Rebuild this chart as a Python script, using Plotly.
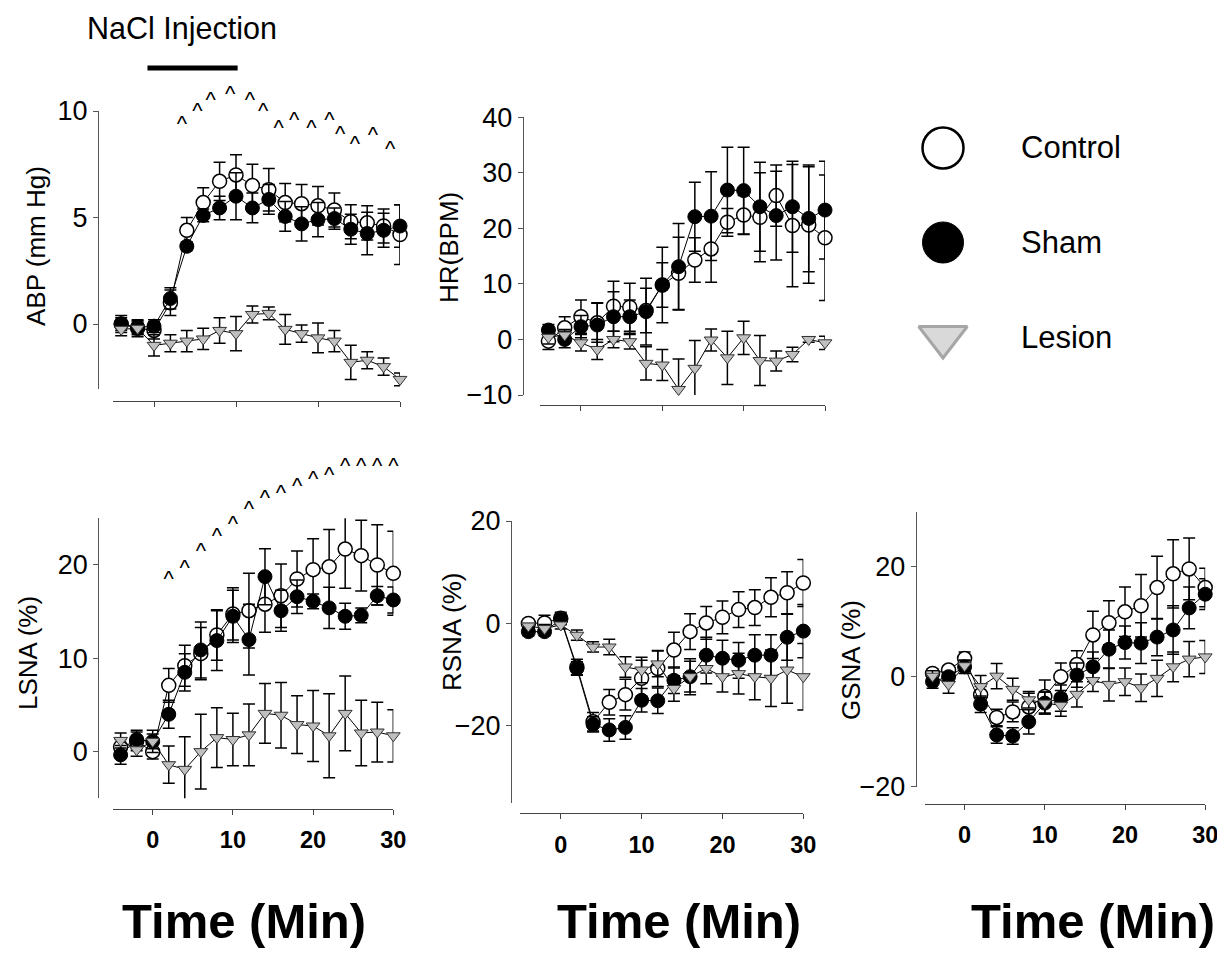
import plotly.graph_objects as go

# ---------------- data ----------------
time_min = [-4, -2, 0, 2, 4, 6, 8, 10, 12, 14, 16, 18, 20, 22, 24, 26, 28, 30]
group_names = ["Control", "Sham", "Lesion"]

# ABP (mm Hg)
abp_control = [0.0, -0.2, -0.3, 1.0, 4.4, 5.7, 6.7, 7.0, 6.5, 6.3, 5.7, 5.65, 5.55, 5.35, 4.8, 4.75, 4.6, 4.2]
abp_control_err = [0.4, 0.4, 0.4, 0.6, 0.6, 0.7, 0.9, 0.95, 1.0, 1.0, 0.9, 0.9, 0.9, 0.8, 0.8, 0.8, 0.8, 1.4]
abp_sham = [0.0, -0.15, -0.1, 1.2, 3.65, 5.1, 5.45, 6.0, 5.45, 5.85, 5.05, 4.7, 4.9, 4.95, 4.45, 4.25, 4.4, 4.6]
abp_sham_err = [0.3, 0.3, 0.3, 0.5, 0.2, 0.3, 0.55, 1.1, 0.7, 0.7, 0.7, 0.8, 0.8, 0.5, 0.7, 1.0, 0.8, 1.0]
abp_lesion = [-0.25, -0.2, -1.0, -0.9, -0.8, -0.7, -0.3, -0.45, 0.45, 0.5, -0.25, -0.45, -0.65, -0.8, -1.8, -1.7, -2.0, -2.6]
abp_lesion_err = [0.3, 0.3, 0.5, 0.4, 0.5, 0.5, 0.6, 0.8, 0.4, 0.3, 0.7, 0.4, 0.7, 0.5, 0.8, 0.4, 0.4, 0.3]
abp_yticks = [0, 5, 10]
abp_caret_x = [3.4, 5.3, 6.9, 9.3, 11.7, 13.3, 15.2, 17.1, 19.2, 21.4, 22.7, 24.5, 26.7, 28.8]
abp_caret_y = [9.3, 9.95, 10.45, 10.75, 10.45, 9.95, 9.15, 9.5, 9.15, 9.5, 8.85, 8.4, 8.8, 8.15]

# HR (BPM)
hr_control = [-0.3, 2.1, 4.1, 3.0, 6.0, 5.8, 5.2, 9.8, 11.9, 14.3, 16.3, 21.1, 22.4, 22.0, 25.9, 20.5, 20.6, 18.3]
hr_control_err = [1.5, 2.0, 3.0, 3.5, 4.5, 4.3, 4.0, 4.0, 6.5, 4.0, 6.0, 2.5, 3.5, 8.0, 5.5, 11.0, 10.5, 11.3]
hr_sham = [1.7, 0.0, 2.3, 2.6, 4.1, 4.1, 5.0, 9.8, 13.1, 22.1, 22.2, 26.9, 26.8, 23.9, 22.3, 23.9, 21.8, 23.3]
hr_sham_err = [1.0, 1.5, 2.0, 4.0, 4.5, 3.0, 6.0, 6.8, 7.8, 6.2, 8.0, 7.7, 7.8, 8.0, 8.0, 8.2, 9.6, 8.8]
hr_lesion = [0.4, 0.8, -0.6, -1.8, 0.0, -0.4, -4.3, -4.6, -9.0, -5.2, -0.1, -3.3, 0.3, -3.8, -3.9, -2.7, 0.0, -0.6]
hr_lesion_err = [1.2, 1.0, 1.5, 1.8, 1.5, 1.3, 3.0, 2.8, 5.5, 5.0, 2.0, 4.8, 3.0, 4.5, 1.8, 1.3, 0.5, 1.2]
hr_yticks = [-10, 0, 10, 20, 30, 40]

# LSNA (%)
lsna_control = [0.5, 1.1, 0.0, 7.1, 9.2, 10.5, 12.5, 14.75, 15.1, 15.8, 16.7, 18.5, 19.5, 19.8, 21.7, 21.0, 20.0, 19.1]
lsna_control_err = [0.8, 1.0, 0.8, 1.8, 2.2, 2.8, 2.7, 2.8, 4.0, 3.0, 3.4, 3.0, 3.3, 4.0, 4.2, 3.8, 4.3, 4.5]
lsna_sham = [-0.35, 1.3, 1.1, 4.0, 8.5, 10.9, 11.9, 14.5, 12.0, 18.75, 15.1, 16.6, 16.1, 15.4, 14.5, 14.6, 16.7, 16.25]
lsna_sham_err = [1.0, 1.0, 1.2, 1.5, 2.0, 3.0, 3.2, 2.8, 3.8, 3.0, 2.2, 1.8, 0.8, 2.2, 1.4, 0.8, 1.0, 1.4]
lsna_lesion = [1.2, 0.2, 1.1, -1.4, -1.9, 0.0, 1.5, 1.3, 1.8, 4.1, 3.9, 2.9, 2.75, 1.7, 4.1, 2.0, 2.1, 1.7]
lsna_lesion_err = [0.8, 0.7, 0.8, 2.0, 3.5, 4.0, 3.2, 2.8, 3.3, 3.2, 3.5, 3.1, 3.8, 4.5, 4.0, 3.5, 3.2, 2.8]
lsna_yticks = [0, 10, 20]
lsna_caret_x = [2, 4, 6, 8, 10, 12, 14, 16, 18, 20, 22, 24, 26, 28, 30]
lsna_caret_y = [18.3, 19.5, 21.3, 22.9, 24.2, 25.8, 27.0, 27.6, 28.3, 29.0, 29.5, 30.4, 30.4, 30.4, 30.4]

# RSNA (%)
rsna_control = [0.0, 0.1, 1.0, -8.5, -19.2, -15.4, -13.9, -10.7, -8.8, -5.2, -1.6, 0.1, 1.2, 2.7, 3.1, 5.1, 6.0, 7.9]
rsna_control_err = [0.8, 1.5, 1.2, 1.5, 1.8, 2.5, 3.0, 3.5, 3.5, 3.5, 3.5, 3.2, 3.2, 3.5, 3.5, 3.8, 4.1, 4.6]
rsna_sham = [-1.6, -1.6, 0.8, -8.8, -19.7, -20.8, -20.3, -15.0, -15.1, -11.1, -10.4, -6.2, -6.8, -7.2, -6.2, -6.2, -2.7, -1.5]
rsna_sham_err = [0.8, 0.8, 1.0, 1.3, 1.5, 2.2, 2.3, 2.3, 2.5, 2.6, 3.5, 3.5, 3.5, 3.5, 4.0, 4.0, 4.5, 5.2]
rsna_lesion = [-0.5, -1.0, -0.3, -2.3, -4.6, -4.6, -8.5, -9.1, -7.9, -12.7, -10.4, -8.8, -10.4, -9.8, -10.4, -10.7, -9.1, -10.4]
rsna_lesion_err = [0.5, 0.8, 0.8, 1.0, 1.0, 1.5, 2.0, 2.5, 2.5, 2.5, 3.0, 3.0, 3.0, 4.0, 4.5, 5.5, 6.5, 6.5]
rsna_yticks = [-20, 0, 20]

# GSNA (%)
gsna_control = [0.6, 1.2, 3.3, -3.3, -7.4, -6.4, -5.5, -3.6, 0.0, 2.2, 7.6, 9.8, 11.8, 12.9, 16.2, 18.7, 19.6, 16.2]
gsna_control_err = [0.8, 0.8, 1.2, 1.5, 1.5, 1.8, 2.5, 3.0, 2.5, 2.5, 4.3, 4.0, 4.5, 5.7, 5.7, 6.2, 5.6, 3.5]
gsna_sham = [-0.9, 0.0, 1.8, -5.0, -10.6, -10.8, -8.2, -4.8, -3.9, 0.3, 1.8, 5.0, 6.2, 6.1, 7.2, 8.5, 12.5, 15.0]
gsna_sham_err = [1.2, 0.8, 1.2, 1.5, 1.5, 1.5, 2.2, 2.0, 2.4, 2.2, 2.7, 3.5, 3.0, 3.7, 3.4, 4.4, 3.8, 2.8]
gsna_lesion = [0.1, -1.4, 2.0, -1.8, 0.1, -2.3, -4.2, -4.8, -5.2, -3.2, -0.7, -1.4, -0.9, -2.0, -0.3, 1.8, 3.2, 3.6]
gsna_lesion_err = [1.0, 1.6, 1.0, 2.0, 2.3, 2.0, 1.5, 2.0, 2.0, 2.3, 2.0, 3.0, 2.5, 2.5, 3.3, 2.7, 3.2, 3.0]
gsna_yticks = [-20, 0, 20]

x_ticks = [0, 10, 20, 30]
x_range = [-5, 30]
injection_span = [-0.8, 10.2]

# ---------------- layout helpers ----------------
# the page body has an 8px margin; size the figure so the whole page fits the window
PAGE_W, PAGE_H, BODY = 1225, 957, 8
W, H = PAGE_W - 2 * BODY, PAGE_H - 2 * BODY
FONT = "Liberation Sans, Arial, Helvetica, sans-serif"


def clamp(v):
    return min(1.0, max(0.0, v))


def fx(p):
    return clamp((p - BODY) / W)


def fy(p):
    return clamp(1 - (p - BODY) / H)


panels = [
    dict(title="ABP (mm Hg)", data=(abp_control, abp_control_err, abp_sham, abp_sham_err, abp_lesion, abp_lesion_err),
         xdom=(113, 400), xline=401, ydom=(111, 389), yline=98, yrange=(-3.05, 10), yticks=abp_yticks,
         labels=False, tpos=(36, 246), carets=(abp_caret_x, abp_caret_y), caret_room=45),
    dict(title="HR(BPM)", data=(hr_control, hr_control_err, hr_sham, hr_sham_err, hr_lesion, hr_lesion_err),
         xdom=(540.3, 825), xline=405, ydom=(117.3, 395), yline=522.7, yrange=(-10, 40), yticks=hr_yticks,
         labels=False, tpos=(449, 248), carets=None, caret_room=0),
    dict(title="LSNA (%)", data=(lsna_control, lsna_control_err, lsna_sham, lsna_sham_err, lsna_lesion, lsna_lesion_err),
         xdom=(112.6, 393.3), xline=809, ydom=(518.3, 798.3), yline=98.3, yrange=(-5, 25), yticks=lsna_yticks,
         labels=True, tpos=(28, 653), carets=(lsna_caret_x, lsna_caret_y), caret_room=70),
    dict(title="RSNA (%)", data=(rsna_control, rsna_control_err, rsna_sham, rsna_sham_err, rsna_lesion, rsna_lesion_err),
         xdom=(520.3, 803.3), xline=813.3, ydom=(521, 802.7), yline=511, yrange=(-35, 20), yticks=rsna_yticks,
         labels=True, tpos=(452, 632), carets=None, caret_room=0),
    dict(title="GSNA (%)", data=(gsna_control, gsna_control_err, gsna_sham, gsna_sham_err, gsna_lesion, gsna_lesion_err),
         xdom=(924.5, 1205.2), xline=804, ydom=(511.7, 786.7), yline=915.7, yrange=(-20, 30), yticks=gsna_yticks,
         labels=True, tpos=(851, 660), carets=None, caret_room=0),
]

styles = [
    dict(symbol="circle", size=14, color="white", line=dict(color="black", width=1.5)),
    dict(symbol="circle", size=14, color="black", line=dict(color="black", width=1)),
    dict(symbol="triangle-down", size=12, color="#bfbfbf", line=dict(color="#333333", width=1)),
]

fig = go.Figure()
layout = dict(
    width=W, height=H, margin=dict(l=0, r=0, t=0, b=0, autoexpand=False),
    paper_bgcolor="white", plot_bgcolor="rgba(0,0,0,0)", showlegend=False,
    font=dict(family=FONT, color="black"),
)
annotations = []
shapes = []
extra_axis = 7

for i, p in enumerate(panels, start=1):
    sfx = "" if i == 1 else str(i)
    xa, ya = "xaxis" + sfx, "yaxis" + sfx
    xr, yr = "x" + sfx, "y" + sfx
    layout[xa] = dict(
        domain=[fx(p["xdom"][0]), fx(p["xdom"][1])], range=x_range, anchor="free",
        position=fy(p["xline"]), showline=True, linecolor="#444444", linewidth=1.2,
        ticks="outside", ticklen=5, tickcolor="#444444", tickvals=x_ticks,
        showticklabels=p["labels"], tickfont=dict(size=23.5, weight="bold", family=FONT),
        ticklabelstandoff=5, ticklabeloverflow="allow",
        showgrid=False, zeroline=False, fixedrange=True,
    )
    layout[ya] = dict(
        domain=[fy(p["ydom"][1]), fy(p["ydom"][0])], range=list(p["yrange"]), anchor="free",
        position=fx(p["yline"]), showline=True, linecolor="#555555", linewidth=1.2,
        ticks="outside", ticklen=5, tickcolor="#555555", tickvals=p["yticks"],
        tickfont=dict(size=27, family=FONT), showgrid=False, zeroline=False, fixedrange=True,
    )
    d = p["data"]
    for g in range(3):
        st = styles[g]
        fig.add_trace(go.Scatter(
            x=time_min, y=d[2 * g], xaxis=xr, yaxis=yr, mode="lines+markers",
            name=group_names[g], cliponaxis=False,
            line=dict(color="black", width=1),
            marker=dict(symbol=st["symbol"], size=st["size"], color=st["color"], line=st["line"]),
            error_y=dict(type="data", array=d[2 * g + 1], visible=True, color="black", thickness=1.5, width=6),
        ))
    annotations.append(dict(
        x=fx(p["tpos"][0]), y=fy(p["tpos"][1]), xref="paper", yref="paper", text=p["title"],
        textangle=-90, showarrow=False, xanchor="center", yanchor="middle",
        font=dict(size=26, family=FONT),
    ))
    if p["carets"] is not None:
        # invisible companion y-axis with the same scale, extended upward so the marks stay in range
        y0, y1 = p["yrange"]
        top_px, bot_px = p["ydom"]
        per_px = (y1 - y0) / (bot_px - top_px)
        room = p["caret_room"]
        cya = "yaxis%d" % extra_axis
        layout[cya] = dict(
            domain=[fy(bot_px), fy(top_px - room)], range=[y0, y1 + room * per_px],
            anchor=xr, visible=False, fixedrange=True,
        )
        cx, cy = p["carets"]
        fig.add_trace(go.Scatter(
            x=cx, y=cy, xaxis=xr, yaxis="y%d" % extra_axis, mode="text", text=["^"] * len(cx),
            textposition="middle center", cliponaxis=False, hoverinfo="skip",
            textfont=dict(size=22, family=FONT, color="black"),
        ))
        extra_axis += 1

# NaCl injection bar & label
shapes.append(dict(type="line", xref="x", yref="paper", x0=injection_span[0], x1=injection_span[1],
                   y0=fy(68), y1=fy(68), line=dict(color="black", width=5)))
annotations.append(dict(x=fx(182), y=fy(29), xref="paper", yref="paper", text="NaCl Injection",
                        xanchor="center", yanchor="middle",
                        showarrow=False, font=dict(size=30.5, family=FONT)))

# Time titles
for cx in (244, 679, 1093):
    annotations.append(dict(x=fx(cx), y=fy(921), xref="paper", yref="paper", text="Time (Min)",
                            xanchor="center", yanchor="middle",
                            showarrow=False, font=dict(size=49, weight="bold", family=FONT)))

# Custom legend (hidden axis)
lx0, lx1 = 880, 1200
layout["xaxis6"] = dict(domain=[fx(lx0), fx(lx1)], range=[lx0, lx1], visible=False, fixedrange=True)
layout["yaxis6"] = dict(domain=[fy(384.25), fy(100.75)], range=[2.5, -0.5], visible=False, fixedrange=True)
legend_marker_x = 943
legend_text_x = 1019
legend_styles = [
    dict(symbol="circle", size=41, color="white", line=dict(color="black", width=2.5)),
    dict(symbol="circle", size=41, color="black", line=dict(color="black", width=1)),
    dict(symbol="triangle-down", size=42, color="#d9d9d9", line=dict(color="#a6a6a6", width=3)),
]
for g in range(3):
    fig.add_trace(go.Scatter(
        x=[legend_marker_x], y=[g], xaxis="x6", yaxis="y6", mode="markers", cliponaxis=False,
        marker=legend_styles[g], hoverinfo="skip",
    ))
    annotations.append(dict(x=legend_text_x, y=g, xref="x6", yref="y6", text=group_names[g],
                            xanchor="left", yanchor="middle", showarrow=False,
                            font=dict(size=31, family=FONT)))

layout["annotations"] = annotations
layout["shapes"] = shapes
fig.update_layout(**layout)
fig.write_html("out.html")
